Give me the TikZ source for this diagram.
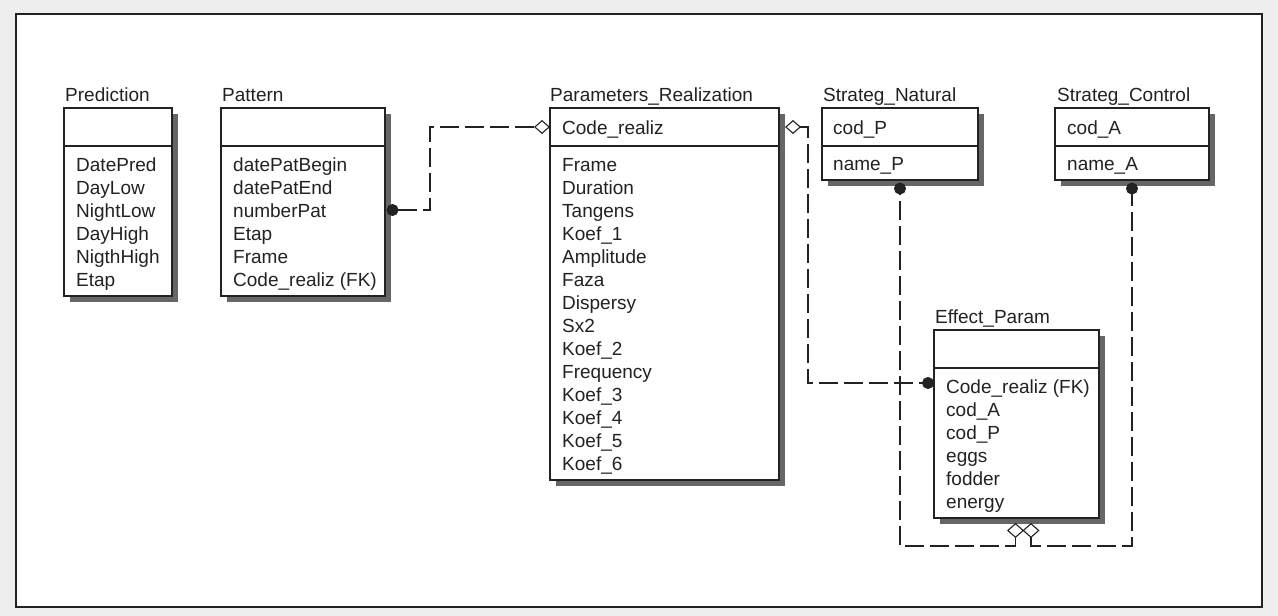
\documentclass[tikz,border=0pt]{standalone}
\usepackage{fontspec}
\setmainfont{Liberation Sans}
\usepackage{xcolor}
\usetikzlibrary{arrows.meta, shadows}

\definecolor{pagebg}{HTML}{EEEEEE}
\definecolor{ink}{HTML}{222222}

\tikzset{
  tbl/.style={rectangle, draw=ink, line width=1.2pt, fill=white, inner sep=0pt, outer sep=0pt, anchor=north west,
    drop shadow={shadow xshift=6pt, shadow yshift=-6pt, fill=black!60, opacity=1}},
  ttl/.style={anchor=base west, inner sep=0pt, text=ink, font=\fontsize{19}{23}\selectfont},
  fld/.style={ttl},
  rel/.style={draw=ink, line width=1.1pt, dash pattern=on 19pt off 6pt},
  erdot/.tip={Circle[length=12pt]},
  erdia/.tip={Diamond[open, length=16pt, width=14pt]},
  erdiav/.tip={Diamond[open, length=15pt, width=17pt]}
}

\begin{document}
\begin{tikzpicture}[x=1pt, y=-1pt]
    \fill[pagebg] (0,0) rectangle (1278,616);
    \draw[ink, line width=1.5pt, fill=white] (16,14) rectangle (1262,607);

    % Prediction
    \node (predT) at (65,101) [ttl] {Prediction};
    \node (predH) at (64,108) [tbl, minimum width=108pt, minimum height=38pt] {};
    \node (predB) at (64,146) [tbl, minimum width=108pt, minimum height=150pt] {};
    \foreach \t [count=\i from 0] in {DatePred, DayLow, NightLow, DayHigh, NigthHigh, Etap}
        \node (pred\i) at (76,171+23*\i) [fld] {\t};

    % Pattern
    \node (patT) at (222,101) [ttl] {Pattern};
    \node (patH) at (221,108) [tbl, minimum width=164pt, minimum height=38pt] {};
    \node (patB) at (221,146) [tbl, minimum width=164pt, minimum height=150pt] {};
    \foreach \t [count=\i from 0] in {datePatBegin, datePatEnd, numberPat, Etap, Frame, Code\_realiz (FK)}
        \node (pat\i) at (233,171+23*\i) [fld] {\t};

    % Parameters_Realization
    \node (parT) at (550,101) [ttl] {Parameters\_Realization};
    \node (parH) at (550,108) [tbl, minimum width=229pt, minimum height=38pt] {};
    \node (parB) at (550,146) [tbl, minimum width=229pt, minimum height=334pt] {};
    \node (parK) at (562,134) [fld] {Code\_realiz};
    \foreach \t [count=\i from 0] in {Frame, Duration, Tangens, Koef\_1, Amplitude, Faza, Dispersy, Sx2,
        Koef\_2, Frequency, Koef\_3, Koef\_4, Koef\_5, Koef\_6}
        \node (par\i) at (562,171+23*\i) [fld] {\t};

    % Strateg_Natural
    \node (natT) at (823,101) [ttl] {Strateg\_Natural};
    \node (natH) at (822,108) [tbl, minimum width=156pt, minimum height=38pt] {};
    \node (natB) at (822,146) [tbl, minimum width=156pt, minimum height=34pt] {};
    \node (natK) at (833,134) [fld] {cod\_P};
    \node (nat0) at (833,170) [fld] {name\_P};

    % Strateg_Control
    \node (ctlT) at (1057,101) [ttl] {Strateg\_Control};
    \node (ctlH) at (1055,108) [tbl, minimum width=154pt, minimum height=38pt] {};
    \node (ctlB) at (1055,146) [tbl, minimum width=154pt, minimum height=34pt] {};
    \node (ctlK) at (1067,134) [fld] {cod\_A};
    \node (ctl0) at (1067,170) [fld] {name\_A};

    % Effect_Param
    \node (effT) at (935,323) [ttl] {Effect\_Param};
    \node (effH) at (934,330) [tbl, minimum width=165pt, minimum height=38pt] {};
    \node (effB) at (934,368) [tbl, minimum width=165pt, minimum height=150pt] {};
    \foreach \t [count=\i from 0] in {Code\_realiz (FK), cod\_A, cod\_P, eggs, fodder, energy}
        \node (eff\i) at (946,393+23*\i) [fld] {\t};

    % relations
    \draw[rel, erdot-erdia] ([shift={(1.5,64)}]patB.north east) -- ++(43.5,0) |- (parH.west);
    \draw[rel, erdia-erdot] ([shift={(6,0)}]parH.east) -- ++(23,0) |- ([shift={(0,15)}]effB.north west);
    \draw[rel, erdiav-erdot] ([shift={(-1,5)}]effB.south) -- ++(0,23) -| ([shift={(0,2.5)}]natB.south);
    \draw[rel, erdiav-erdot] ([shift={(14.5,5)}]effB.south) -- ++(0,23) -| ([shift={(0,2.5)}]ctlB.south);
\end{tikzpicture}
\end{document}
